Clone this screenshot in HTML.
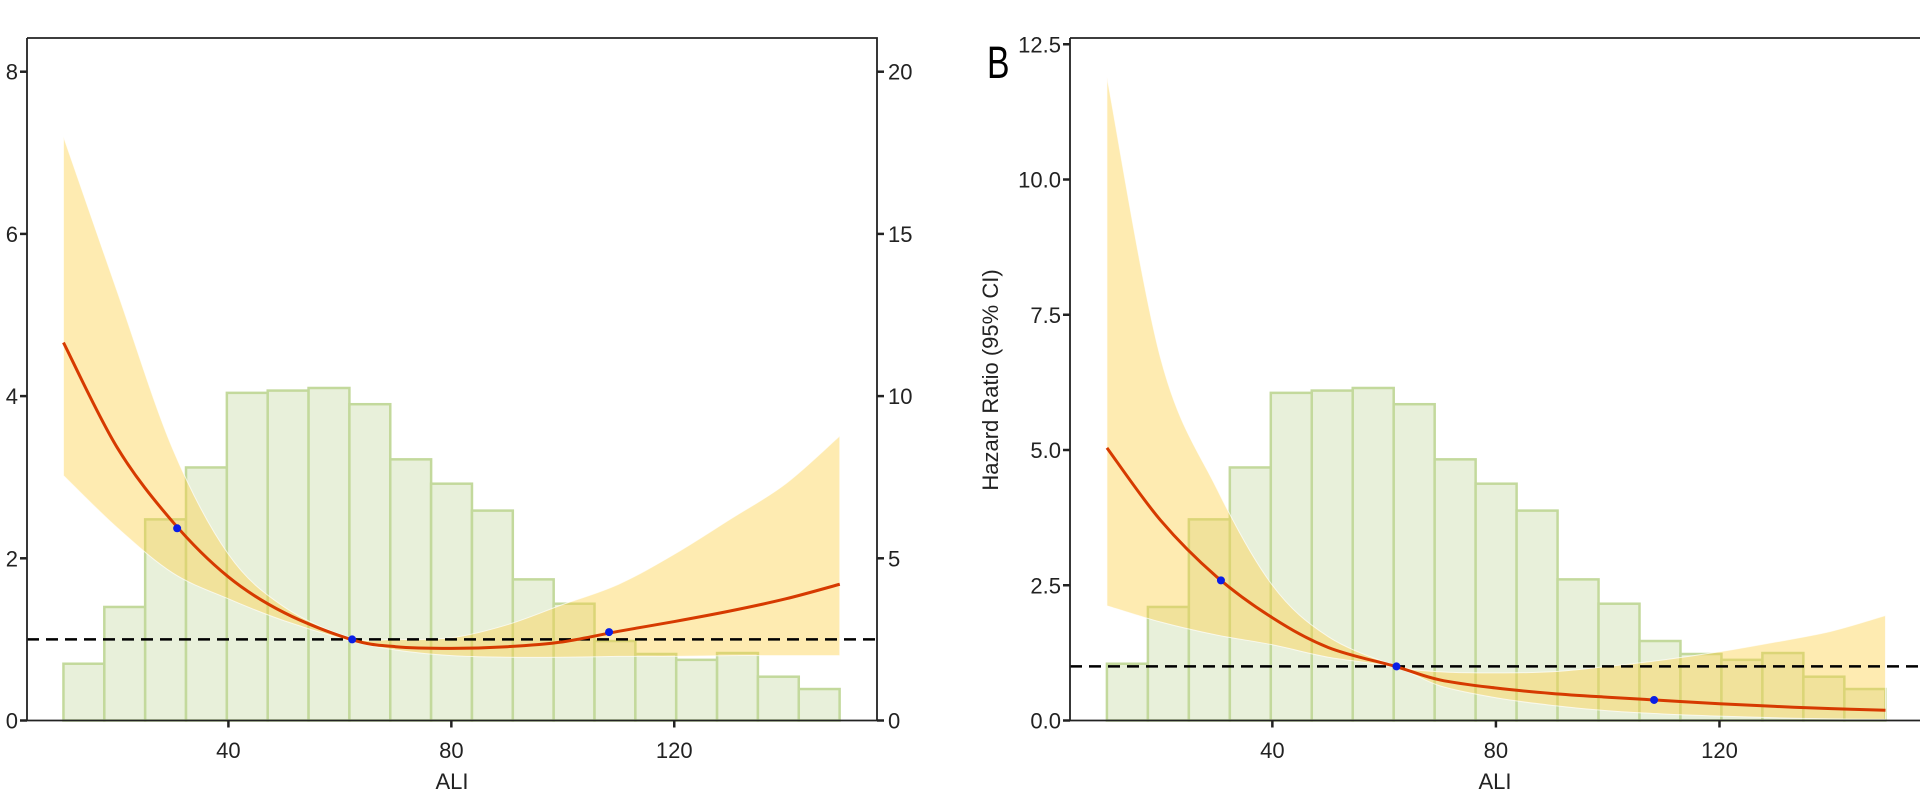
<!DOCTYPE html>
<html><head><meta charset="utf-8"><style>
html,body{margin:0;padding:0;background:#fff;}
svg{display:block;font-family:"Liberation Sans",Arial,sans-serif;}
</style></head><body>
<svg id="chart" width="1920" height="790" viewBox="0 0 1920 790" xmlns="http://www.w3.org/2000/svg"></svg>
<script>
// Shared data
const histBins = [10.4,17.73,25.06,32.39,39.72,47.05,54.38,61.71,69.04,76.37,83.7,91.03,98.36,105.69,113.02,120.35,127.68,135.01,142.34,149.67];
const histPct = [1.75,3.5,6.2,7.8,10.1,10.17,10.25,9.75,8.05,7.3,6.47,4.35,3.6,2.45,2.05,1.87,2.08,1.35,0.97];
const curveX = [10.4,20,30,40,50,62,70,80,90,100,110,120,130,140,149.7];
// Panel A
const hrA = [4.66,3.37,2.45,1.77,1.33,1.0,0.91,0.89,0.91,0.97,1.1,1.22,1.35,1.5,1.68];
const upA = [7.2,5.3,3.35,2.05,1.4,1.02,1.0,1.02,1.18,1.43,1.68,2.05,2.48,2.92,3.51];
const loA = [3.02,2.38,1.82,1.5,1.23,0.98,0.87,0.8,0.78,0.78,0.79,0.79,0.8,0.8,0.8];
const ptsXA = [30.8,62.2,108.3];
const ptsYA = [2.37,1.0,1.09];
const ticksYA = [0,2,4,6,8];
const ticksY2A = [0,5,10,15,20];
const ticksX = [40,80,120];
// Panel B
const hrB = [5.04,3.7,2.66,1.9,1.35,1.0,0.75,0.6,0.5,0.43,0.37,0.31,0.26,0.22,0.19];
const upB = [11.9,6.7,4.3,2.5,1.55,1.02,0.9,0.88,0.9,1.0,1.12,1.27,1.45,1.65,1.94];
const loB = [2.12,1.82,1.58,1.4,1.17,0.98,0.64,0.42,0.28,0.18,0.12,0.08,0.05,0.03,0.02];
const ptsXB = [30.8,62.2,108.3];
const ptsYB = [2.59,1.0,0.38];
const ticksYB = ["0.0","2.5","5.0","7.5","10.0","12.5"];

const NS="http://www.w3.org/2000/svg";
const svg=document.getElementById('chart');
function mk(tag,attrs,parent){const e=document.createElementNS(NS,tag);for(const k in attrs)e.setAttribute(k,attrs[k]);(parent||svg).appendChild(e);return e;}
function spline(pts,start){
  let c=(start?'M':'L')+pts[0];
  for(let i=0;i<pts.length-1;i++){
    const p0=pts[i-1]||pts[i],p1=pts[i],p2=pts[i+1],p3=pts[i+2]||pts[i+1];
    c+='C'+(p1[0]+(p2[0]-p0[0])/6)+','+(p1[1]+(p2[1]-p0[1])/6)+' '+(p2[0]-(p3[0]-p1[0])/6)+','+(p2[1]-(p3[1]-p1[1])/6)+' '+p2;
  }
  return c;
}

function panel(p){
  const g=mk('g',{});
  
  
  const X=v=>p.x0+v*p.xs;
  const Y=v=>p.yb-v*p.ys;
  const Y2=v=>p.yb-v*p.ys2;
  for(let i=0;i<histPct.length;i++){
    const r=mk('rect',{x:X(histBins[i]),y:Y2(histPct[i]),width:X(histBins[i+1])-X(histBins[i]),height:p.yb-Y2(histPct[i]),fill:'#e8f0da',stroke:'#c3d99c','stroke-width':2.5},g);
    
    
  }
  const upPts=curveX.map((x,i)=>[X(x),Y(p.up[i])]);
  const loPts=curveX.map((x,i)=>[X(x),Y(p.lo[i])]).reverse();
  const ci=mk('path',{d:spline(upPts,true)+spline(loPts,false)+'Z',fill:'rgba(252,208,70,0.42)',stroke:'rgba(255,255,255,0.7)','stroke-width':1},g);
  
  
  const dl=mk('line',{x1:p.left,x2:p.right,y1:Y(1),y2:Y(1),stroke:'#000','stroke-width':2.5,'stroke-dasharray':'12,7'},g);
  
  
  const pts=curveX.map((x,i)=>[X(x),Y(p.hr[i])]);
  const cv=mk('path',{d:spline(pts,true),fill:'none',stroke:'#d63a00','stroke-width':3},g);
  
  
  p.px.forEach((x,i)=>{
    const ci2=mk('circle',{cx:X(x),cy:Y(p.py[i]),r:4,fill:'#0a1ee6'},g);
    
    
  });
  const fr=mk('path',{d:`M${p.left},${p.top}H${p.right}`+(p.rightAxis?`V${p.yb}`:'')+`M${p.left},${p.top}V${p.yb}H${p.right}`,fill:'none',stroke:'#222','stroke-width':1.8},g);
  
  
  p.yt.forEach(t=>{
    const v=parseFloat(t);
    mk('line',{x1:p.left-7,x2:p.left,y1:Y(v),y2:Y(v),stroke:'#222','stroke-width':2.5},g);
    const tx=mk('text',{x:p.left-9,y:Y(v)+8,'text-anchor':'end','font-size':22,fill:'#222'},g);
    tx.textContent=t;
    
    
  });
  if(p.rightAxis){
    ticksY2A.forEach(t=>{
      mk('line',{x1:p.right,x2:p.right+7,y1:Y2(t),y2:Y2(t),stroke:'#222','stroke-width':2.5},g);
      const tx=mk('text',{x:p.right+11,y:Y2(t)+8,'font-size':22,fill:'#222'},g);
      tx.textContent=t;
      
      
    });
  }
  ticksX.forEach(t=>{
    mk('line',{x1:X(t),x2:X(t),y1:p.yb,y2:p.yb+7,stroke:'#222','stroke-width':2.5},g);
    const tx=mk('text',{x:X(t),y:758,'text-anchor':'middle','font-size':22,fill:'#222'},g);
    tx.textContent=t;
    
    
  });
  const xl=mk('text',{x:(p.left+p.right)/2,y:789,'text-anchor':'middle','font-size':22,fill:'#222'},g);
  xl.textContent='ALI';
  
  
}
panel({name:'panel-a',left:27,right:877,top:38,yb:720.5,x0:5.5,xs:5.573,ys:81.1,ys2:32.44,hr:hrA,up:upA,lo:loA,px:ptsXA,py:ptsYA,yt:ticksYA.map(String),rightAxis:true});
panel({name:'panel-b',left:1070,right:1920,top:38,yb:720.5,x0:1048.8,xs:5.589,ys:54.1,ys2:32.44,hr:hrB,up:upB,lo:loB,px:ptsXB,py:ptsYB,yt:ticksYB,rightAxis:false});
const yl=mk('text',{x:0,y:0,'font-size':22,fill:'#222','text-anchor':'middle',transform:'translate(998,380) rotate(-90)'});
yl.textContent='Hazard Ratio (95% CI)';


const bl=mk('text',{x:0,y:0,'font-size':45,fill:'#000',transform:'translate(987,78) scale(0.75,1)'});
bl.textContent='B';


</script>
</body></html>
